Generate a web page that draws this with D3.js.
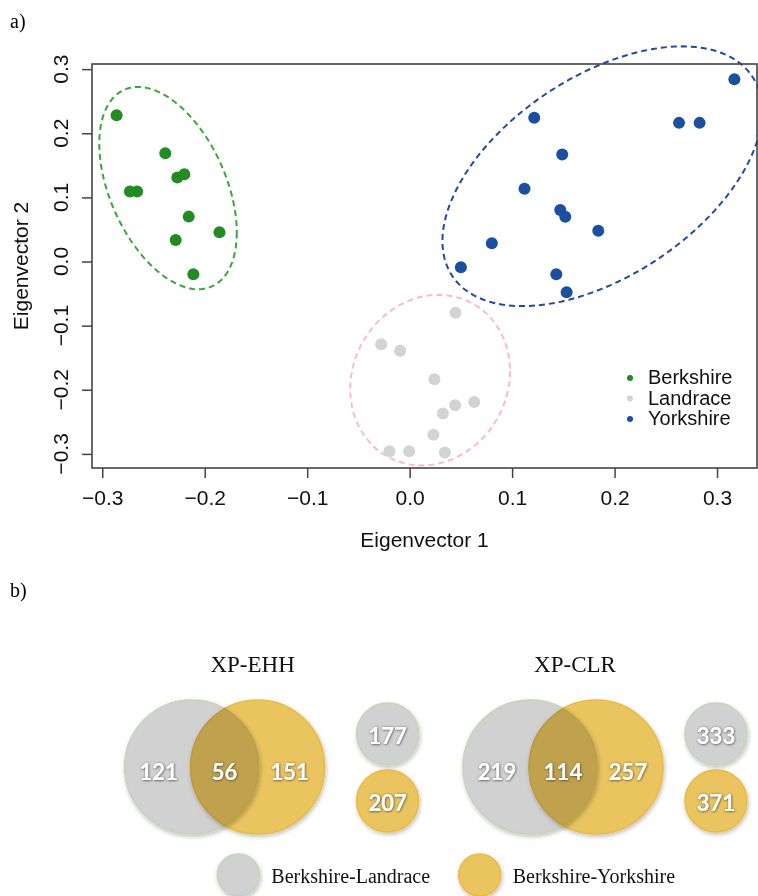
<!DOCTYPE html>
<html>
<head>
<meta charset="utf-8">
<script src="https://cdn.jsdelivr.net/npm/d3@7"></script>
<style>
  body { margin: 0; background: #fff; }
  svg { display: block; }
  .tick text { font-family: "Liberation Sans", Arial, sans-serif; font-size: 21px; fill: #111; }
  .num { font-family: Lato, "Open Sans", sans-serif; font-weight: 700; fill: #fff; }
</style>
</head>
<body>
<div id="chart"></div>
<script>
// ---- part a) PCA scores ----
const breeds = ["Berkshire", "Landrace", "Yorkshire"];
const breedColors = ["#228b22", "#d3d3d3", "#1b4fa0"];
const ellipseColors = ["#3aa63a", "#f6bccd", "#2449a0"];

const berkshireX = [-0.286, -0.2385, -0.2267, -0.2199, -0.273, -0.266, -0.2156, -0.1856, -0.2283, -0.2111];
const berkshireY = [0.228, 0.169, 0.131, 0.136, 0.109, 0.109, 0.070, 0.0455, 0.0335, -0.020];
const landraceX = [0.0448, -0.0278, -0.0093, 0.0242, 0.063, 0.0444, 0.0324, 0.0232, -0.0197, -0.0005, 0.0344];
const landraceY = [-0.080, -0.129, -0.139, -0.1835, -0.219, -0.224, -0.237, -0.270, -0.296, -0.296, -0.298];
const yorkshireX = [0.3169, 0.1216, 0.2629, 0.2830, 0.1489, 0.1121, 0.1470, 0.1519, 0.1841, 0.0802, 0.050, 0.1431, 0.1532];
const yorkshireY = [0.2843, 0.224, 0.2162, 0.2162, 0.167, 0.1134, 0.0802, 0.0698, 0.048, 0.0283, -0.009, -0.020, -0.048];

// ellipse: centre, half-extent in x and y, phase between them (degrees)
const ellipseCx = [-0.2358, 0.020, 0.188];
const ellipseCy = [0.1145, -0.185, 0.133];
const ellipseRx = [0.0671, 0.078, 0.156];
const ellipseRy = [0.1578, 0.133, 0.2025];
const ellipsePhase = [116, 84, 60];

const axisTicks = [-0.3, -0.2, -0.1, 0.0, 0.1, 0.2, 0.3];

// ---- part b) Venn counts ----
const methods = ["XP-EHH", "XP-CLR"];
const onlyLandrace = [121, 219];
const sharedCount = [56, 114];
const onlyYorkshire = [151, 257];
const totalLandrace = [177, 333];
const totalYorkshire = [207, 371];
const comparisons = ["Berkshire-Landrace", "Berkshire-Yorkshire"];
const comparisonColors = ["#d1d1d1", "#e9c45f"];
const comparisonStrokes = ["#c6d4b6", "#e8bb45"];

const width = 758, height = 896;
const svg = d3.select("#chart").append("svg")
    .attr("width", width)
    .attr("height", height);

const defs = svg.append("defs");
const shadow = defs.append("filter").attr("id", "shadow")
    .attr("x", "-20%").attr("y", "-20%").attr("width", "150%").attr("height", "150%");
shadow.append("feDropShadow")
    .attr("dx", 1).attr("dy", 2).attr("stdDeviation", 2)
    .attr("flood-color", "#000").attr("flood-opacity", 0.25);
const glow = defs.append("filter").attr("id", "glow")
    .attr("x", "-30%").attr("y", "-30%").attr("width", "160%").attr("height", "160%");
glow.append("feDropShadow")
    .attr("dx", 0.5).attr("dy", 0.5).attr("stdDeviation", 1.1)
    .attr("flood-color", "#333").attr("flood-opacity", 0.9);

const serif = "'Liberation Serif', 'Times New Roman', serif";
const sans = "'Liberation Sans', Arial, sans-serif";

// panel labels
svg.append("text").attr("x", 10).attr("y", 28)
    .style("font-family", serif).style("font-size", "20px").text("a)");
svg.append("text").attr("x", 10).attr("y", 597)
    .style("font-family", serif).style("font-size", "20px").text("b)");

// ================= scatter =================
const xScale = d3.scaleLinear().domain([-0.310, 0.339]).range([92, 757]);
const yScale = d3.scaleLinear().domain([-0.322, 0.308]).range([468, 64]);

const scatter = svg.append("g").attr("class", "scatter");

// ellipses
const line = d3.line().x(d => xScale(d[0])).y(d => yScale(d[1]));
breeds.forEach((b, i) => {
    const ph = ellipsePhase[i] * Math.PI / 180;
    const pts = d3.range(0, 361, 3).map(a => {
        const t = a * Math.PI / 180;
        return [ellipseCx[i] + ellipseRx[i] * Math.cos(t),
                ellipseCy[i] + ellipseRy[i] * Math.cos(t + ph)];
    });
    scatter.append("path")
        .attr("d", line(pts))
        .attr("fill", "none")
        .attr("stroke", ellipseColors[i])
        .attr("stroke-width", 2)
        .attr("stroke-dasharray", "6,4");
});

// points
const groups = [
    berkshireX.map((x, j) => ({ x, y: berkshireY[j], g: 0 })),
    landraceX.map((x, j) => ({ x, y: landraceY[j], g: 1 })),
    yorkshireX.map((x, j) => ({ x, y: yorkshireY[j], g: 2 }))
].flat();

scatter.selectAll(".pt")
    .data(groups)
    .enter()
    .append("circle")
    .attr("class", "pt")
    .attr("cx", d => xScale(d.x))
    .attr("cy", d => yScale(d.y))
    .attr("r", 6)
    .attr("fill", d => breedColors[d.g]);

// box
scatter.append("rect")
    .attr("x", 92).attr("y", 64)
    .attr("width", 757 - 92).attr("height", 468 - 64)
    .attr("fill", "none")
    .attr("stroke", "#444")
    .attr("stroke-width", 1.6);

// x axis
const xAxis = d3.axisBottom(xScale)
    .tickValues(axisTicks)
    .tickSize(10)
    .tickPadding(12)
    .tickFormat(d3.format(".1f"));

scatter.append("g")
    .attr("class", "x-axis")
    .attr("transform", "translate(0, 468)")
    .call(xAxis)
    .call(g => g.select(".domain").remove())
    .call(g => g.selectAll(".tick line").attr("stroke", "#444").attr("stroke-width", 1.5));

// y axis (labels rotated, R style)
const yAxis = d3.axisLeft(yScale)
    .tickValues(axisTicks)
    .tickSize(10)
    .tickFormat("");

scatter.append("g")
    .attr("class", "y-axis")
    .attr("transform", "translate(92, 0)")
    .call(yAxis)
    .call(g => g.select(".domain").remove())
    .call(g => g.selectAll(".tick line").attr("stroke", "#444").attr("stroke-width", 1.5));

scatter.selectAll(".ylab")
    .data(axisTicks)
    .enter()
    .append("text")
    .attr("class", "ylab")
    .attr("transform", d => `translate(68, ${yScale(d)}) rotate(-90)`)
    .attr("text-anchor", "middle")
    .style("font-family", sans)
    .style("font-size", "21px")
    .style("fill", "#111")
    .text(d3.format(".1f"));

scatter.append("text")
    .attr("x", 424.5).attr("y", 547)
    .attr("text-anchor", "middle")
    .style("font-family", sans).style("font-size", "21px").style("fill", "#111")
    .text("Eigenvector 1");

scatter.append("text")
    .attr("transform", "translate(28, 266) rotate(-90)")
    .attr("text-anchor", "middle")
    .style("font-family", sans).style("font-size", "21px").style("fill", "#111")
    .text("Eigenvector 2");

// legend (tight R-style spacing)
const legend = scatter.append("g").attr("class", "legend");
breeds.forEach((b, i) => {
    const y = 377 + i * 20.5;
    legend.append("circle").attr("cx", 630).attr("cy", y + 1).attr("r", 3)
        .attr("fill", breedColors[i]);
    legend.append("text").attr("x", 648).attr("y", y + 7)
        .style("font-family", sans).style("font-size", "20px").style("fill", "#111")
        .text(b);
});

// ================= Venn diagrams =================
const vennX = d3.scalePoint().domain(methods).range([224.6, 563]);
const titleShift = [28, 12];
const sideShift = [163, 153];
const bigR = 67, smallR = 31;
const vennY = 767;

methods.forEach((m, i) => {
    const cx = vennX(m);
    const sx = cx + sideShift[i];
    const g = svg.append("g").attr("class", "venn");

    g.append("text")
        .attr("x", cx + titleShift[i]).attr("y", 672)
        .attr("text-anchor", "middle")
        .style("font-family", serif).style("font-size", "23px").style("fill", "#111")
        .text(m);

    g.append("circle")
        .attr("cx", cx - 33).attr("cy", vennY).attr("r", bigR)
        .attr("fill", comparisonColors[0])
        .attr("stroke", comparisonStrokes[0]).attr("stroke-width", 1.5)
        .attr("filter", "url(#shadow)");
    g.append("circle")
        .attr("cx", cx + 33).attr("cy", vennY).attr("r", bigR)
        .attr("fill", comparisonColors[1])
        .attr("stroke", comparisonStrokes[1]).attr("stroke-width", 1.5)
        .attr("filter", "url(#shadow)")
        .style("mix-blend-mode", "multiply");

    g.append("circle")
        .attr("cx", sx).attr("cy", 734).attr("r", smallR)
        .attr("fill", comparisonColors[0])
        .attr("stroke", comparisonStrokes[0]).attr("stroke-width", 1.5)
        .attr("filter", "url(#shadow)");
    g.append("circle")
        .attr("cx", sx).attr("cy", 801).attr("r", smallR)
        .attr("fill", comparisonColors[1])
        .attr("stroke", comparisonStrokes[1]).attr("stroke-width", 1.5)
        .attr("filter", "url(#shadow)");

    const nums = [
        [cx - 66, vennY + 4, onlyLandrace[i]],
        [cx, vennY + 4, sharedCount[i]],
        [cx + 65, vennY + 4, onlyYorkshire[i]],
        [sx, 735, totalLandrace[i]],
        [sx, 802, totalYorkshire[i]]
    ];
    g.selectAll(".num")
        .data(nums)
        .enter()
        .append("text")
        .attr("class", "num")
        .attr("x", d => d[0]).attr("y", d => d[1])
        .attr("text-anchor", "middle")
        .attr("dominant-baseline", "central")
        .attr("filter", "url(#glow)")
        .style("font-size", "22px")
        .text(d => d[2]);
});

// bottom legend
const legX = d3.scalePoint().domain(comparisons).range([238.3, 479.7]);
comparisons.forEach((c, i) => {
    svg.append("circle")
        .attr("cx", legX(c)).attr("cy", 875).attr("r", 21)
        .attr("fill", comparisonColors[i])
        .attr("stroke", comparisonStrokes[i]).attr("stroke-width", 1.5)
        .attr("filter", "url(#shadow)");
    svg.append("text")
        .attr("x", legX(c) + 33).attr("y", 883)
        .style("font-family", serif).style("font-size", "20px").style("fill", "#111")
        .text(c);
});
</script>
</body>
</html>
